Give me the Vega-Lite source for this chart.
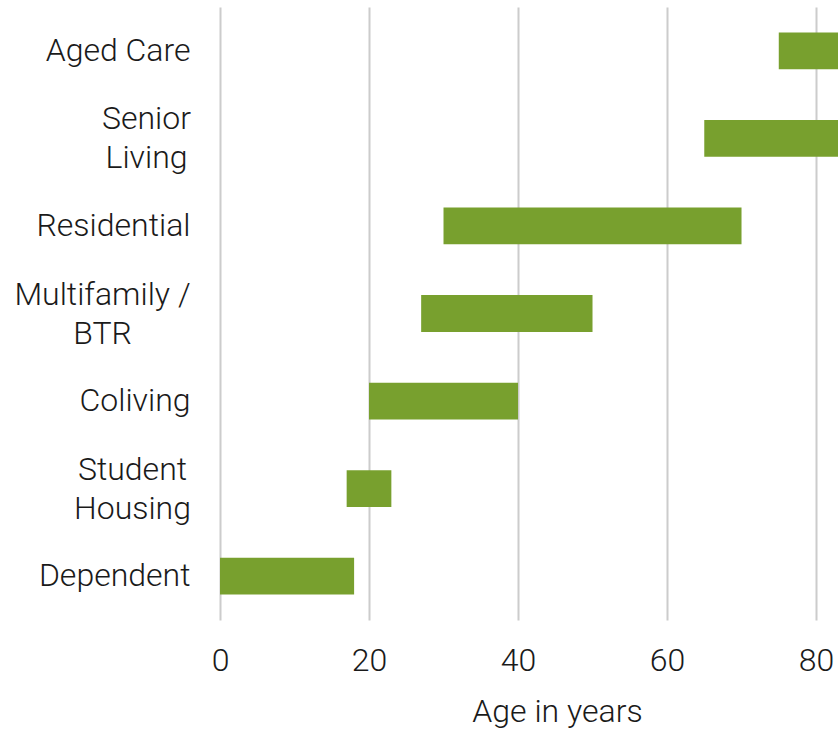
{
  "$schema": "https://vega.github.io/schema/vega-lite/v6.json",
  "width": 618,
  "height": 613,
  "autosize": {"type": "none"},
  "padding": {"left": 220, "top": 7, "right": 0, "bottom": 112},
  "background": "white",
  "config": {
    "view": {"stroke": null},
    "font": "Roboto"
  },
  "data": {
    "values": [
      {"category": "Aged Care", "start": 75, "end": 100},
      {"category": "Senior\nLiving", "start": 65, "end": 100},
      {"category": "Residential", "start": 30, "end": 70},
      {"category": "Multifamily /\nBTR", "start": 27, "end": 50},
      {"category": "Coliving", "start": 20, "end": 40},
      {"category": "Student\nHousing", "start": 17, "end": 23},
      {"category": "Dependent", "start": 0, "end": 18}
    ]
  },
  "mark": {"type": "bar", "color": "#78a02e", "clip": true},
  "encoding": {
    "y": {
      "field": "category",
      "type": "nominal",
      "sort": null,
      "scale": {"paddingInner": 0.58, "paddingOuter": 0.29},
      "axis": {
        "title": null,
        "domain": false,
        "ticks": false,
        "labelFont": "Roboto",
        "labelFontWeight": 300,
        "labelFontSize": 32,
        "labelColor": "#1a1a1a",
        "labelLineHeight": 39,
        "labelExpr": "split(datum.value, '\\n')",
        "labelAlign": {"condition": {"test": "indexof(datum.value, '\\n') >= 0", "value": "center"}, "value": "right"},
        "labelOffset": {"condition": {"test": "indexof(datum.value, '\\n') >= 0", "value": -19}, "value": 0},
        "labelPadding": {"condition": [
          {"test": "indexof(datum.value, 'Multifamily') === 0", "value": 118},
          {"test": "indexof(datum.value, 'Senior') === 0", "value": 74},
          {"test": "indexof(datum.value, 'Student') === 0", "value": 88}
        ], "value": 30}
      }
    },
    "x": {
      "field": "start",
      "type": "quantitative",
      "scale": {"domain": [0, 82.95], "nice": false, "zero": false},
      "axis": {
        "title": "Age in years",
        "values": [0, 20, 40, 60, 80],
        "domain": false,
        "ticks": false,
        "grid": true,
        "gridColor": "#cccccc",
        "gridWidth": 2,
        "labelFont": "Roboto",
        "labelFontWeight": 300,
        "labelFontSize": 32,
        "labelColor": "#1a1a1a",
        "labelPadding": 25,
        "labelFlush": false,
        "titleFont": "Roboto",
        "titleFontWeight": 300,
        "titleFontSize": 32,
        "titleColor": "#1a1a1a",
        "titlePadding": 20,
        "titleX": 337,
        "titleAlign": "center"
      }
    },
    "x2": {"field": "end"}
  }
}
